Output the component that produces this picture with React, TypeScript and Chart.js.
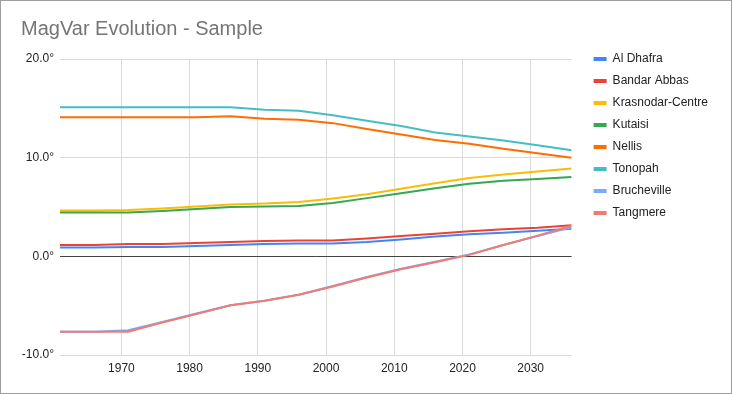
import { useEffect, useRef } from 'react';
import { Chart, registerables } from 'chart.js';

Chart.register(...registerables);

const years = [1961, 1966, 1971, 1976, 1981, 1986, 1991, 1996, 2001, 2006, 2011, 2016, 2021, 2026, 2031, 2036];
const xTicks = [1970, 1980, 1990, 2000, 2010, 2020, 2030];
const yTicks = [-10, 0, 10, 20];

const alDhafra = [0.9, 0.9, 0.95, 0.95, 1.05, 1.15, 1.25, 1.3, 1.3, 1.45, 1.7, 2.0, 2.25, 2.4, 2.6, 2.8];
const bandarAbbas = [1.15, 1.15, 1.25, 1.25, 1.35, 1.45, 1.55, 1.6, 1.6, 1.8, 2.05, 2.3, 2.55, 2.75, 2.9, 3.15];
const krasnodar = [4.65, 4.65, 4.7, 4.85, 5.05, 5.25, 5.35, 5.5, 5.85, 6.3, 6.85, 7.4, 7.95, 8.3, 8.6, 8.9];
const kutaisi = [4.45, 4.45, 4.45, 4.6, 4.8, 5.0, 5.05, 5.1, 5.4, 5.9, 6.4, 6.9, 7.35, 7.65, 7.85, 8.05];
const nellis = [14.1, 14.1, 14.1, 14.1, 14.1, 14.2, 13.95, 13.85, 13.5, 12.9, 12.35, 11.8, 11.4, 10.9, 10.45, 10.0];
const tonopah = [15.1, 15.1, 15.1, 15.1, 15.1, 15.1, 14.85, 14.75, 14.3, 13.75, 13.2, 12.55, 12.15, 11.75, 11.25, 10.75];
const brucheville = [-7.65, -7.65, -7.5, -6.65, -5.8, -4.95, -4.5, -3.9, -3.0, -2.1, -1.25, -0.55, 0.2, 1.15, 2.05, 2.95];
const tangmere = [-7.65, -7.65, -7.65, -6.7, -5.85, -4.95, -4.5, -3.9, -3.05, -2.15, -1.3, -0.6, 0.15, 1.15, 2.1, 3.1];

const seriesNames = ['Al Dhafra', 'Bandar Abbas', 'Krasnodar-Centre', 'Kutaisi', 'Nellis', 'Tonopah', 'Brucheville', 'Tangmere'];
const seriesValues = [alDhafra, bandarAbbas, krasnodar, kutaisi, nellis, tonopah, brucheville, tangmere];
const seriesColors = ['#4285F4', '#EA4335', '#FBBC04', '#34A853', '#FF6D01', '#46BDC6', '#7BAAF7', '#F07B72'];

const xMin = 1961;
const xMax = 2036;
const yMin = -10;
const yMax = 20;

const FONT = "'Liberation Sans', Arial, sans-serif";

export default function App() {
  const ref = useRef<HTMLCanvasElement>(null);

  useEffect(() => {
    if (!ref.current) return;
    Chart.defaults.font.family = FONT;
    const n = seriesNames.length;
    const datasets = seriesNames.map((name, i) => ({
      label: name,
      data: years.map((yr, j) => ({ x: yr, y: seriesValues[i][j] })),
      borderColor: seriesColors[i],
      backgroundColor: seriesColors[i],
      borderWidth: 2,
      pointRadius: 0,
      pointHoverRadius: 0,
      tension: 0,
      fill: false,
      order: n - i,
    }));

    const chart = new Chart(ref.current, {
      type: 'line',
      data: { datasets },
      options: {
        responsive: false,
        animation: false,
        events: [],
        layout: { padding: { left: 20, right: 13, top: 0, bottom: 8 } },
        plugins: {
          tooltip: { enabled: false },
          title: {
            display: true,
            text: 'MagVar Evolution - Sample',
            align: 'start',
            color: '#757575',
            font: { size: 20, weight: 'normal', family: FONT },
            padding: { top: 16, bottom: 18 },
          },
          legend: {
            display: true,
            position: 'right',
            align: 'start',
            maxWidth: 135,
            title: {
              display: true,
              text: ' ',
              padding: { top: 30, bottom: 0 },
              font: { size: 12, lineHeight: 1 },
            },
            labels: {
              boxWidth: 13,
              boxHeight: 4,
              padding: 10,
              color: '#222222',
              font: { size: 12, family: FONT },
              generateLabels: (c: any) =>
                (Chart.defaults.plugins.legend.labels.generateLabels as any)(c).map((l: any) => ({
                  ...l,
                  lineWidth: 0,
                  strokeStyle: 'rgba(0,0,0,0)',
                })),
              sort: (a: any, b: any) => a.datasetIndex - b.datasetIndex,
            },
          },
        },
        scales: {
          x: {
            type: 'linear',
            position: 'bottom',
            min: xMin,
            max: xMax,
            bounds: 'data',
            border: { display: false },
            grid: { color: '#d9d9d9', drawTicks: false, lineWidth: 1 },
            ticks: {
              maxRotation: 0,
              autoSkip: false,
              padding: 6,
              color: '#222222',
              font: { size: 12, family: FONT },
              callback: (v: any) => String(v),
            },
            afterBuildTicks: (s: any) => {
              s.ticks = xTicks.map((v) => ({ value: v }));
            },
            afterFit: (s: any) => {
              s.height = 30;
            },
          },
          y: {
            type: 'linear',
            position: 'left',
            min: yMin,
            max: yMax,
            border: { display: false },
            grid: {
              drawTicks: false,
              lineWidth: 1,
              color: (ctx: any) => (ctx.tick && ctx.tick.value === 0 ? '#444444' : '#d9d9d9'),
            },
            ticks: {
              padding: 6,
              color: '#222222',
              font: { size: 12, family: FONT },
              callback: (v: any) => Number(v).toFixed(1) + '°',
            },
            afterBuildTicks: (s: any) => {
              s.ticks = yTicks.map((v) => ({ value: v }));
            },
            afterFit: (s: any) => {
              s.width = 39;
            },
          },
          gap: {
            type: 'linear',
            position: 'right',
            display: true,
            border: { display: false },
            grid: { display: false, drawTicks: false },
            ticks: { display: false },
            afterFit: (s: any) => {
              s.width = 12;
            },
          },
        },
      } as any,
    });
    return () => chart.destroy();
  }, []);

  return (
    <div
      style={{
        position: 'fixed',
        left: 0,
        top: 0,
        width: 732,
        height: 394,
        boxSizing: 'border-box',
        border: '1px solid #9e9e9e',
        background: '#ffffff',
      }}
    >
      <canvas ref={ref} width={730} height={392} style={{ display: 'block', width: 730, height: 392 }} />
    </div>
  );
}
